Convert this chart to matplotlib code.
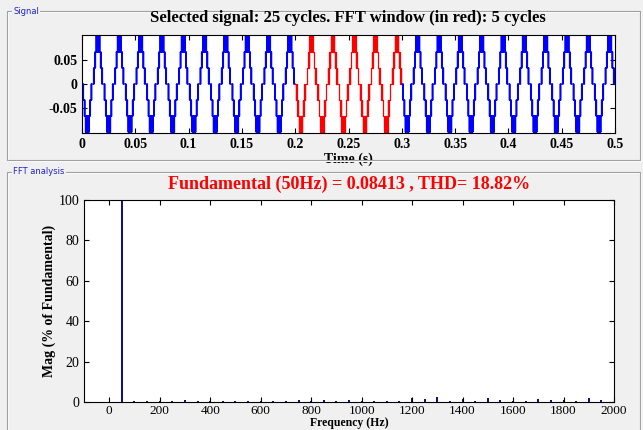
import numpy as np
import matplotlib
matplotlib.use("Agg")
import matplotlib.pyplot as plt
from matplotlib.patches import Rectangle

plt.rcParams['axes.unicode_minus'] = False
plt.rcParams['font.family'] = 'Liberation Serif'

# --- signal: one half cycle of the multilevel PWM wave (ms, level index) ---
period_ms = 20.0
n_cycles = 25
red_cycles = (10, 15)          # FFT window: cycles 10..14 (0.2 s - 0.3 s)
level_step = 0.1 / 3
half_ms = [0.0, 0.8, 1.2, 1.4, 2.1, 2.5, 2.7, 3.2, 3.5, 3.7, 4.0, 4.2, 4.5, 4.6,
           4.8, 5.2, 5.4, 5.5, 5.8, 6.0, 6.3, 6.5, 6.8, 7.3, 7.5, 7.9, 8.6, 8.8, 9.2]
half_lv = [0, 1, 0, 1, 2, 1, 2, 3, 2, 3, 2, 3, 2, 3,
           2, 3, 2, 3, 2, 3, 2, 3, 2, 1, 2, 1, 0, 1, 0]

# --- FFT spectrum (% of fundamental) ---
harm_freq = [50, 100, 150, 200, 250, 300, 350, 400, 450, 500, 550, 600, 650, 700,
             750, 800, 850, 900, 950, 1000, 1050, 1100, 1150, 1200, 1250, 1300,
             1350, 1400, 1450, 1500, 1550, 1600, 1650, 1700, 1750, 1800, 1850,
             1900, 1950]
harm_mag = [100, 0.65, 0.5, 0.3, 0.5, 1.0, 0.5, 0.3, 0.5, 0.65, 0.65, 0.3, 0.35,
            0.65, 0.8, 0.4, 0.8, 0.65, 1.0, 0.4, 0.65, 0.65, 0.5, 2.0, 1.3, 2.4,
            0.5, 1.3, 0.5, 2.0, 1.0, 0.4, 0.5, 1.5, 1.1, 1.2, 0.65, 1.8, 1.0]

title_top = "Selected signal: 25 cycles. FFT window (in red): 5 cycles"
title_fft = "Fundamental (50Hz) = 0.08413 , THD= 18.82%"


def build(c0, c1):
    t, v = [], []
    for c in range(c0, c1):
        for h, sign in ((0, -1), (1, 1)):
            base = c * period_ms + h * period_ms / 2
            for tm, lv in zip(half_ms, half_lv):
                t.append((base + tm) / 1000.0)
                v.append(sign * lv * level_step)
    t.append(c1 * period_ms / 1000.0)
    v.append(v[-1])
    return np.array(t), np.array(v)


fig = plt.figure(figsize=(6.43, 4.30), dpi=100)
fig.patch.set_facecolor('#F0F0F0')

# etched panels
for (x0, y0, w, h, label) in [(7, 11, 633, 149, "Signal"), (7, 172, 633, 280, "FFT analysis")]:
    for off, col in ((1, 'white'), (0, '#A0A0A0')):
        fig.patches.append(Rectangle(((x0 + off) / 643, 1 - (y0 + h + off) / 430), w / 643, h / 430,
                                     transform=fig.transFigure, fill=False, edgecolor=col, lw=0.8))
    fig.text(13 / 643, 1 - y0 / 430, label, family='DejaVu Sans', fontsize=6, color='#2222CC',
             va='center', ha='left', bbox=dict(facecolor='#F0F0F0', edgecolor='none', pad=1))

tick_kw = dict(direction='in', top=True, right=True, length=3.5, width=0.8, labelsize=10)

# top: signal
ax1 = fig.add_axes([82 / 643, 1 - 133 / 430, 533 / 643, 98 / 430])
for (c0, c1, col) in [(0, red_cycles[0], 'blue'), (red_cycles[0], red_cycles[1], 'red'),
                      (red_cycles[1], n_cycles, 'blue')]:
    t, v = build(c0, c1)
    ax1.plot(t, v, drawstyle='steps-post', color=col, lw=0.9)
ax1.set_xlim(0, 0.5)
ax1.set_ylim(-0.102, 0.102)
ax1.set_xticks(np.arange(0, 0.51, 0.05))
ax1.set_xticklabels(['0', '0.05', '0.1', '0.15', '0.2', '0.25', '0.3', '0.35', '0.4', '0.45', '0.5'])
ax1.set_yticks([-0.05, 0, 0.05])
ax1.set_yticklabels(['-0.05', '0', '0.05'])
ax1.tick_params(**tick_kw)
for lab in ax1.get_xticklabels() + ax1.get_yticklabels():
    lab.set_fontweight('bold')
ax1.set_xlabel('Time (s)', fontsize=10, fontweight='bold', labelpad=1)
fig.text(348 / 643, 1 - 18 / 430, title_top, ha='center', va='center', fontsize=12, fontweight='bold')

# bottom: FFT bars
ax2 = fig.add_axes([84 / 643, 1 - 402 / 430, 530 / 643, 202 / 430])
ax2.bar(harm_freq, harm_mag, width=8, color='#10108C', edgecolor='none')
ax2.set_xlim(-100, 2000)
ax2.set_ylim(0, 100)
ax2.set_xticks(np.arange(0, 2001, 200))
ax2.set_yticks(np.arange(0, 101, 20))
ax2.tick_params(**tick_kw)
ax2.tick_params(axis='x', labelsize=9.5, pad=2)
ax2.set_xlabel('Frequency (Hz)', fontsize=8.5, fontweight='bold', labelpad=0)
ax2.set_ylabel('Mag (% of Fundamental)', fontsize=10, fontweight='bold', labelpad=2)
fig.text(349 / 643, 1 - 184 / 430, title_fft, ha='center', va='center', fontsize=13,
         fontweight='bold', color='red')

fig.savefig('out.png', dpi=100, facecolor=fig.get_facecolor())
